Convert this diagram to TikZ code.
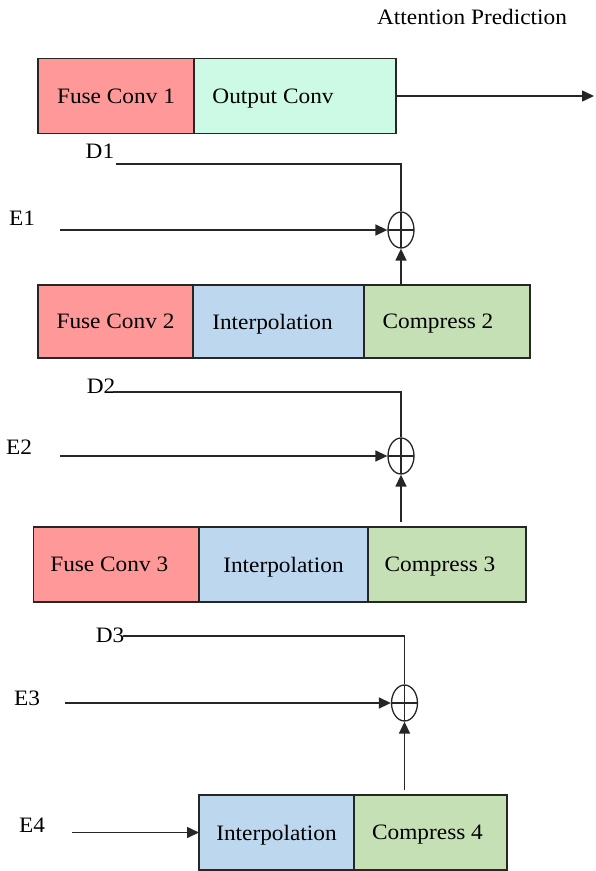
\documentclass[tikz,border=0pt]{standalone}
\usepackage{fontspec}
\setmainfont{Liberation Serif}[FakeStretch=1.06]
\usetikzlibrary{arrows.meta,shapes.geometric}
\definecolor{cred}{HTML}{FF9999}
\definecolor{cmint}{HTML}{CCFAE4}
\definecolor{cblue}{HTML}{BDD7EE}
\definecolor{cgreen}{HTML}{C5E0B4}
\newcommand\shiftl[2]{\kern-#1pt #2\kern#1pt}
\tikzset{
  blk/.style={draw=black!85, line width=1.3pt, inner sep=0pt, outer sep=0pt, anchor=center,
    font=\fontsize{22}{24}\selectfont, text depth=0pt},
  sumnode/.style={draw=black!85, ellipse, line width=1.3pt, minimum width=26pt, minimum height=36pt,
    inner sep=0pt,
    path picture={\draw[line width=1.3pt,black!85] (path picture bounding box.north) -- (path picture bounding box.south)
      (path picture bounding box.west) -- (path picture bounding box.east);}},
  lab/.style={font=\fontsize{22}{24}\selectfont, inner sep=0pt},
  conn/.style={line width=1.5pt, black!85},
  arr/.style={conn, -{Triangle[length=12pt,width=11pt]}},
}
\begin{document}
\begin{tikzpicture}[x=1pt,y=-1pt]
\useasboundingbox (0,0) rectangle (596,871);

\node[lab] (att) at (472,17) {Attention Prediction};

% Row 1
\node[blk, fill=cred, minimum width=156pt, minimum height=75pt] (fc1) at (116,96) {Fuse Conv 1};
\node[blk, fill=cmint, minimum width=202pt, minimum height=75pt] (oc) at (295,96) {\shiftl{22}{Output Conv}};
\coordinate (out) at (594,96);
\draw[arr] (oc.east) -- (out);

% Row 2
\node[blk, fill=cred, minimum width=155pt, minimum height=73pt] (fc2) at (115.5,321.5) {Fuse Conv 2};
\node[blk, fill=cblue, minimum width=171pt, minimum height=73pt] (ip2) at (278.5,321.5) {\shiftl{6}{Interpolation}};
\node[blk, fill=cgreen, minimum width=166pt, minimum height=73pt] (cp2) at (447,321.5) {\shiftl{9}{Compress 2}};

\node[sumnode] (s1) at (401,230) {};
\node[lab] (d1) at (100,151) {D1};
\node[lab] (e1) at (22,218) {E1};
\coordinate (d1s) at (116,164);
\coordinate (e1s) at (60,230);
\draw[conn] (d1s) -| (s1.north);
\draw[arr] (e1s) -- (s1.west);
\draw[arr] (s1.south |- cp2.north) -- (s1.south);

% Row 3
\node[blk, fill=cred, minimum width=165.5pt, minimum height=75pt] (fc3) at (116.25,564.5) {\shiftl{7}{Fuse Conv 3}};
\node[blk, fill=cblue, minimum width=169pt, minimum height=75pt] (ip3) at (283.5,564.5) {Interpolation};
\node[blk, fill=cgreen, minimum width=158pt, minimum height=75pt] (cp3) at (447,564.5) {\shiftl{7}{Compress 3}};

\node[sumnode] (s2) at (401,456) {};
\node[lab] (d2) at (101,386) {D2};
\node[lab] (e2) at (19,447) {E2};
\coordinate (d2s) at (113,392);
\coordinate (e2s) at (60,456);
\coordinate (u2) at (401,522);
\draw[conn] (d2s) -| (s2.north);
\draw[arr] (e2s) -- (s2.west);
\draw[arr] (u2) -- (s2.south);

% Row 4
\node[blk, fill=cblue, minimum width=155pt, minimum height=75pt] (ip4) at (276.5,832.5) {Interpolation};
\node[blk, fill=cgreen, minimum width=153pt, minimum height=75pt] (cp4) at (430.5,832.5) {\shiftl{3}{Compress 4}};

\node[sumnode] (s3) at (404.5,703) {};
\node[lab] (d3) at (110,635) {D3};
\node[lab] (e3) at (27,698) {E3};
\node[lab] (e4) at (32,825) {E4};
\coordinate (d3s) at (123,636);
\coordinate (e3s) at (65,703);
\coordinate (u3) at (404.5,790);
\coordinate (e4s) at (72,832.5);
\draw[conn] (d3s) -| (s3.north);
\draw[arr] (e3s) -- (s3.west);
\draw[arr] (u3) -- (s3.south);
\draw[arr] (e4s) -- (ip4.west);
\end{tikzpicture}
\end{document}
